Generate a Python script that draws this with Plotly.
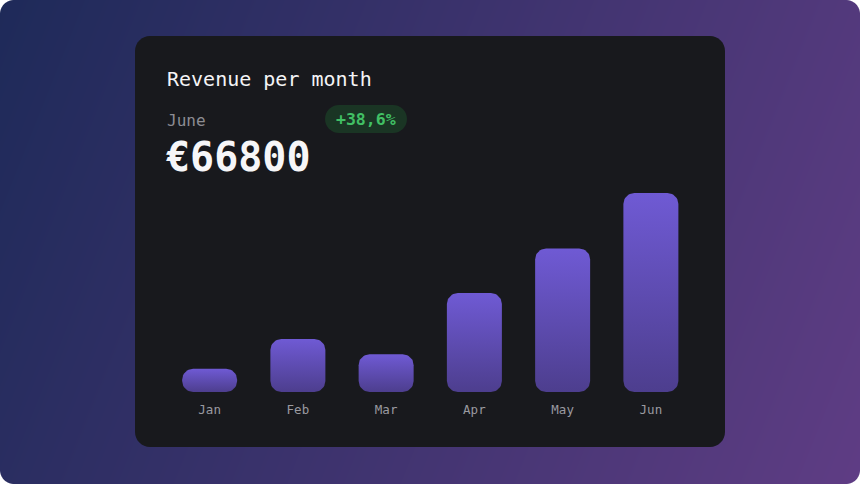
import base64
import struct
import zlib

import numpy as np
import plotly.graph_objects as go

# data
months = ['Jan', 'Feb', 'Mar', 'Apr', 'May', 'Jun']
revenue = [7800, 17800, 12700, 33200, 48200, 66800]
current_label = 'June'
current_value = '€66800'
change_label = '+38,6%'

W, H = 860, 484
MONO = 'DejaVu Sans Mono, Liberation Mono, monospace'

# plot area in pixels
X_LEFT, X_RIGHT = 165.5, 695.0
Y_BASE = 392.0
PX_PER_VAL = 199.0 / 66800.0
Y_MAX = 70000
PX_PER_CAT = (X_RIGHT - X_LEFT) / len(months)
BAR_PX = 55.0
RADIUS_PX = 11.0


def png_uri(rgba):
    """Encode an RGBA uint8 array as a PNG data uri."""
    h, w, _ = rgba.shape
    raw = b''.join(b'\x00' + rgba[i].tobytes() for i in range(h))

    def chunk(tag, data):
        c = struct.pack('>I', len(data)) + tag + data
        return c + struct.pack('>I', zlib.crc32(tag + data) & 0xffffffff)

    png = b'\x89PNG\r\n\x1a\n'
    png += chunk(b'IHDR', struct.pack('>IIBBBBB', w, h, 8, 6, 0, 0, 0))
    png += chunk(b'IDAT', zlib.compress(raw, 9))
    png += chunk(b'IEND', b'')
    return 'data:image/png;base64,' + base64.b64encode(png).decode()


def background_image(radius=14):
    yy, xx = np.mgrid[0:H, 0:W] + 0.5
    t = np.clip(0.8 * xx / W + 0.18 * yy / H, 0, 1)[..., None]
    c0 = np.array([30, 42, 89], dtype=float)
    c1 = np.array([96, 61, 133], dtype=float)
    rgb = c0 + (c1 - c0) * t
    dx = np.maximum(np.maximum(radius - xx, xx - (W - radius)), 0)
    dy = np.maximum(np.maximum(radius - yy, yy - (H - radius)), 0)
    alpha = np.clip(radius - np.sqrt(dx ** 2 + dy ** 2) + 0.5, 0, 1)
    img = np.dstack([rgb, alpha[..., None] * 255]).round().astype(np.uint8)
    return png_uri(img)


def px(x):
    return x / W


def py(y):
    return 1 - y / H


def rounded_rect_path(x0, y0, x1, y1, r):
    """Rounded rectangle as an svg path in paper coords, given pixel box."""
    k = r * 0.5523
    pts = [
        f'M{px(x0 + r)},{py(y0)}',
        f'L{px(x1 - r)},{py(y0)}',
        f'C{px(x1 - r + k)},{py(y0)} {px(x1)},{py(y0 + r - k)} {px(x1)},{py(y0 + r)}',
        f'L{px(x1)},{py(y1 - r)}',
        f'C{px(x1)},{py(y1 - r + k)} {px(x1 - r + k)},{py(y1)} {px(x1 - r)},{py(y1)}',
        f'L{px(x0 + r)},{py(y1)}',
        f'C{px(x0 + r - k)},{py(y1)} {px(x0)},{py(y1 - r + k)} {px(x0)},{py(y1 - r)}',
        f'L{px(x0)},{py(y0 + r)}',
        f'C{px(x0)},{py(y0 + r - k)} {px(x0 + r - k)},{py(y0)} {px(x0 + r)},{py(y0)}',
        'Z',
    ]
    return ' '.join(pts)


def rounded_bar(xc, value):
    """Outline of a bar with all four corners rounded, in data coords."""
    half = BAR_PX / 2 / PX_PER_CAT
    r_px = min(RADIUS_PX, value * PX_PER_VAL / 2)
    rx = r_px / PX_PER_CAT
    ry = r_px / PX_PER_VAL
    xl, xr = xc - half, xc + half
    corners = [
        (xr - rx, ry, -90, 0),
        (xr - rx, value - ry, 0, 90),
        (xl + rx, value - ry, 90, 180),
        (xl + rx, ry, 180, 270),
    ]
    xs, ys = [], []
    for cx, cy, a0, a1 in corners:
        for a in np.linspace(np.radians(a0), np.radians(a1), 12):
            xs.append(cx + rx * np.cos(a))
            ys.append(cy + ry * np.sin(a))
    xs.append(xs[0])
    ys.append(ys[0])
    return xs, ys


fig = go.Figure()

for i, (month, value) in enumerate(zip(months, revenue)):
    xs, ys = rounded_bar(i, value)
    fig.add_trace(go.Scatter(
        x=xs, y=ys,
        mode='lines',
        fill='toself',
        line=dict(width=0, color='rgba(0,0,0,0)'),
        fillgradient=dict(
            type='vertical',
            colorscale=[[0, '#4d3e8e'], [1, '#6f5ad4']],
        ),
        hoveron='fills',
        name=month,
        text=f'{month}: €{value}',
        hoverinfo='text',
        showlegend=False,
    ))

y_top = Y_BASE - Y_MAX * PX_PER_VAL

fig.update_layout(
    width=W,
    height=H,
    margin=dict(l=0, r=0, t=0, b=0),
    paper_bgcolor='white',
    plot_bgcolor='rgba(0,0,0,0)',
    xaxis=dict(
        domain=[px(X_LEFT), px(X_RIGHT)],
        range=[-0.5, len(months) - 0.5],
        tickvals=list(range(len(months))),
        ticktext=months,
        tickfont=dict(family=MONO, size=12.5, color='#9a9aa0'),
        ticks='outside', ticklen=6, tickcolor='rgba(0,0,0,0)',
        showgrid=False, zeroline=False, showline=False,
        fixedrange=True,
    ),
    yaxis=dict(
        domain=[py(Y_BASE), py(y_top)],
        range=[0, Y_MAX],
        visible=False,
        fixedrange=True,
    ),
    images=[dict(
        source=background_image(),
        xref='paper', yref='paper',
        x=0, y=1, sizex=1, sizey=1,
        xanchor='left', yanchor='top',
        sizing='stretch', layer='below',
    )],
    shapes=[
        # card
        dict(type='path', xref='paper', yref='paper', layer='below',
             path=rounded_rect_path(135, 36, 725, 447, 15),
             fillcolor='#18191d', line=dict(width=0)),
        # change badge
        dict(type='path', xref='paper', yref='paper', layer='below',
             path=rounded_rect_path(325, 105, 407, 133, 14),
             fillcolor='#1a3524', line=dict(width=0)),
    ],
    annotations=[
        dict(text='Revenue per month', x=px(165), y=py(79),
             font=dict(family=MONO, size=20, color='#f4f4f6')),
        dict(text=current_label, x=px(165), y=py(120),
             font=dict(family=MONO, size=16, color='#8c8c92')),
        dict(text=f'<b>{current_value}</b>', x=px(164), y=py(157),
             font=dict(family=MONO, size=40, color='#f6f6f8')),
        dict(text=f'<b>{change_label}</b>', x=px(366), y=py(119),
             xanchor='center',
             font=dict(family=MONO, size=16.5, color='#41c064')),
    ],
)

for ann in fig.layout.annotations:
    ann.update(xref='paper', yref='paper', showarrow=False, yanchor='middle')
    if ann.xanchor is None:
        ann.xanchor = 'left'

# page has no body margin, so the figure fills the window
fig.write_html(
    'out.html',
    config={'displayModeBar': False},
    post_script="document.body.style.margin='0';document.body.style.overflow='hidden';",
)
